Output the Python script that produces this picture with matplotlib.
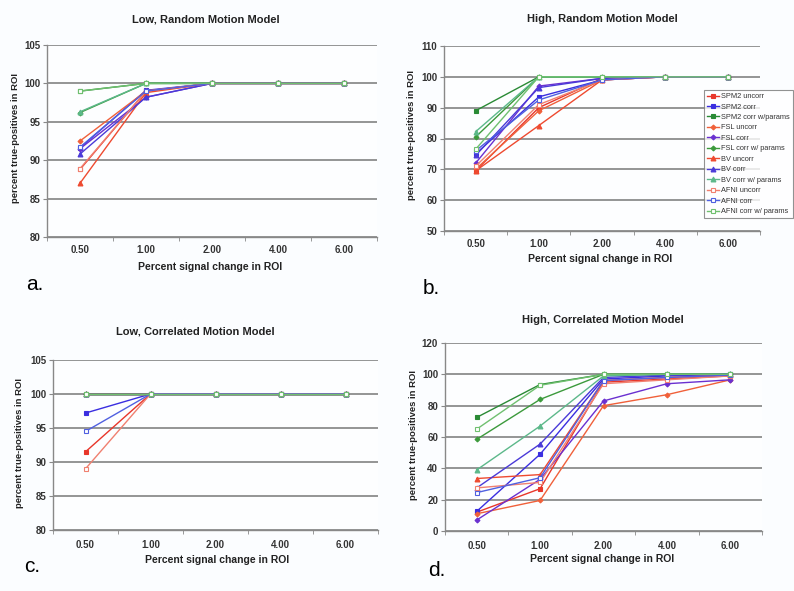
import numpy as np
import matplotlib.pyplot as plt

plt.rcParams['font.family'] = ['Liberation Sans', 'DejaVu Sans']

x_labels = ['0.50', '1.00', '2.00', '4.00', '6.00']

series_names = ['SPM2 uncorr', 'SPM2 corr', 'SPM2 corr w/params',
                'FSL uncorr', 'FSL corr', 'FSL corr w/ params',
                'BV uncorr', 'BV corr', 'BV corr w/ params',
                'AFNI uncorr', 'AFNI corr', 'AFNI corr w/ params']

# a. Low, Random
low_random = [
    [88.8, 99.0, 100, 100, 100],
    [91.6, 99.1, 100, 100, 100],
    [99.0, 100, 100, 100, 100],
    [92.5, 99.0, 100, 100, 100],
    [91.5, 98.2, 100, 100, 100],
    [96.2, 100, 100, 100, 100],
    [87.0, 98.8, 100, 100, 100],
    [90.8, 98.2, 100, 100, 100],
    [96.3, 100, 100, 100, 100],
    [88.9, 99.0, 100, 100, 100],
    [91.7, 99.0, 100, 100, 100],
    [99.0, 100, 100, 100, 100],
]

# b. High, Random
high_random = [
    [69.5, 90.0, 99.5, 100, 100],
    [75.0, 93.5, 99.0, 100, 100],
    [89.0, 100, 100, 100, 100],
    [70.0, 89.0, 99.0, 100, 100],
    [72.0, 97.0, 99.5, 100, 100],
    [80.5, 100, 100, 100, 100],
    [69.5, 84.2, 99.0, 100, 100],
    [74.5, 96.5, 99.5, 100, 100],
    [82.2, 100, 100, 100, 100],
    [71.0, 91.0, 99.0, 100, 100],
    [76.0, 92.5, 99.0, 100, 100],
    [76.5, 100, 100, 100, 100],
]

# c. Low, Correlated
low_corr = [
    [91.5, 100, 100, 100, 100],
    [97.2, 100, 100, 100, 100],
    [100, 100, 100, 100, 100],
    [100, 100, 100, 100, 100],
    [100, 100, 100, 100, 100],
    [100, 100, 100, 100, 100],
    [100, 100, 100, 100, 100],
    [100, 100, 100, 100, 100],
    [100, 100, 100, 100, 100],
    [89.0, 100, 100, 100, 100],
    [94.5, 100, 100, 100, 100],
    [100, 100, 100, 100, 100],
]

# d. High, Correlated
high_corr = [
    [12.0, 27.0, 95.0, 97.0, 99.0],
    [12.5, 49.0, 97.0, 99.0, 100],
    [72.5, 93.5, 100, 100, 100],
    [11.0, 19.5, 80.0, 87.0, 96.5],
    [7.0, 33.0, 83.0, 94.0, 96.5],
    [58.5, 84.0, 100, 100, 100],
    [33.5, 36.0, 96.0, 98.0, 99.5],
    [27.5, 55.5, 98.0, 99.5, 100],
    [39.0, 67.0, 99.0, 100, 100],
    [27.5, 31.0, 94.0, 96.5, 99.0],
    [24.5, 34.0, 96.0, 98.0, 99.5],
    [65.0, 93.0, 100, 100, 100],
]

colors = ['#e8362a', '#3a2ee0', '#2a8a35',
          '#f0603a', '#6a30d0', '#3c9a3c',
          '#ee4a30', '#4a3ad8', '#5cb88a',
          '#f08070', '#5060e0', '#70c070']
markers = ['s', 's', 's', 'D', 'D', 'D', '^', '^', '^', 's', 's', 's']
msizes = [3.5, 3.5, 3.5, 2.5, 2.5, 2.5, 3.5, 3.5, 3.5, 3.5, 3.5, 3.5]
filled = [True] * 9 + [False] * 3

W, H = 794, 591
fig = plt.figure(figsize=(W / 100, H / 100), dpi=100)
fig.patch.set_facecolor('#fbfdff')


def px(x, y):
    return x / W, 1 - y / H


def make_panel(box, data, yticks, title, tpos, xlpos, ylpos, letter, lpos,
               xpad):
    l, t, r, b = box
    ax = fig.add_axes([l / W, 1 - b / H, (r - l) / W, (b - t) / H])
    ax.set_facecolor('#fdfeff')
    xs = np.arange(len(x_labels))
    for i, vals in enumerate(data):
        ax.plot(xs, vals, color=colors[i], marker=markers[i], ms=msizes[i],
                lw=1.0, mfc=colors[i] if filled[i] else 'white',
                mec=colors[i], mew=0.8, label=series_names[i], zorder=3)
    ax.set_xlim(-0.5, 4.5)
    ax.set_ylim(yticks[0], yticks[-1])
    ax.set_yticks(yticks)
    ax.set_xticks(xs)
    ax.set_xticklabels(x_labels)
    ax.set_xticks(np.arange(-0.5, 5, 1), minor=True)
    ax.tick_params(axis='x', which='major', length=0, pad=xpad)
    ax.tick_params(axis='x', which='minor', length=3, color='#888888')
    ax.tick_params(axis='y', length=3, color='#888888', pad=2)
    for lab in ax.get_xticklabels() + ax.get_yticklabels():
        lab.set_fontsize(7)
        lab.set_fontweight('bold')
        lab.set_color('#333333')
    ax.grid(axis='y', color='#8c8c8c', lw=1.3, zorder=0)
    ax.set_axisbelow(True)
    for s in ['top', 'right']:
        ax.spines[s].set_visible(False)
    for s in ['left', 'bottom']:
        ax.spines[s].set_color('#888888')
        ax.spines[s].set_linewidth(1.0)
    fig.text(*px(*tpos), title, ha='center', va='center', fontsize=8,
             fontweight='bold', color='#222222')
    fig.text(*px(*xlpos), 'Percent signal change in ROI', ha='center',
             va='center', fontsize=7.5, fontweight='bold', color='#222222')
    fig.text(*px(*ylpos), 'percent true-positives in ROI', ha='center',
             va='center', rotation=90, fontsize=6.8, fontweight='bold',
             color='#222222')
    fig.text(*px(*lpos), letter, ha='center', va='center', fontsize=15,
             color='black')
    return ax


make_panel((47, 45, 377, 237), low_random, [80, 85, 90, 95, 100, 105],
           'Low, Random Motion Model', (206, 19), (210, 267), (15, 138),
           'a.', (35, 285), 6)
ax_b = make_panel((444, 46, 760, 231), high_random,
                  [50, 60, 70, 80, 90, 100, 110],
                  'High, Random Motion Model', (602, 19), (600, 259),
                  (411, 135), 'b.', (431, 289), 6)
make_panel((53, 360, 378, 530), low_corr, [80, 85, 90, 95, 100, 105],
           'Low, Correlated Motion Model', (195, 332), (217, 560), (20, 443),
           'c.', (32, 567), 7)
make_panel((445, 343, 762, 531), high_corr, [0, 20, 40, 60, 80, 100, 120],
           'High, Correlated Motion Model', (603, 320), (602, 559),
           (413, 435), 'd.', (437, 571), 7)

handles, labels = ax_b.get_legend_handles_labels()
leg = fig.legend(handles, labels, loc='upper left',
                 bbox_to_anchor=px(704, 90), fontsize=5.3, frameon=True,
                 fancybox=False, edgecolor='#777777', handlelength=1.6,
                 handletextpad=0.35, labelspacing=0.45, borderpad=0.4,
                 borderaxespad=0)
leg.get_frame().set_linewidth(0.8)
for txt in leg.get_texts():
    txt.set_color('#333333')

fig.savefig('out.png', dpi=100, facecolor=fig.get_facecolor())
